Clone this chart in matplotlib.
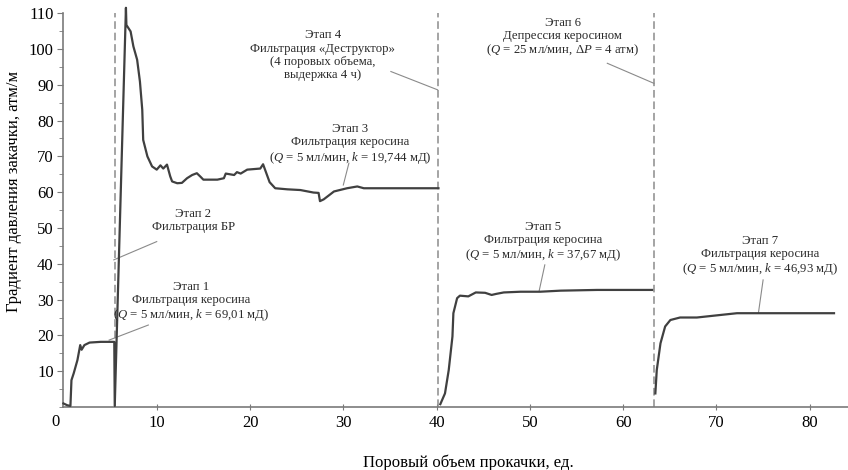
import matplotlib
matplotlib.use("Agg")
import matplotlib.pyplot as plt
from matplotlib.ticker import MultipleLocator

plt.rcParams['font.family'] = ['Liberation Serif', 'DejaVu Serif']
plt.rcParams['mathtext.fontset'] = 'custom'
plt.rcParams['mathtext.rm'] = 'Liberation Serif'
plt.rcParams['mathtext.it'] = 'Liberation Serif:italic'

# stages 1-3 (continuous record up to the "Деструктор" stage)
x_13 = [0.0, 0.4, 0.75, 0.86, 1.1, 1.5, 1.8, 1.95, 2.25, 2.8, 4.0, 5.45, 5.5,
        6.7, 6.75, 7.2, 7.5, 7.9, 8.2, 8.45, 8.55, 9.0, 9.5, 10.0, 10.4, 10.7,
        11.1, 11.45, 11.65, 12.2, 12.7, 13.25, 13.8, 14.3, 14.7, 15.0, 16.5,
        17.2, 17.4, 18.3, 18.6, 19.0, 19.7, 21.1, 21.4, 22.1, 22.7, 24.0, 25.4,
        26.8, 27.35, 27.5, 27.9, 29.0, 30.4, 31.5, 32.2, 34.3, 40.2]
y_13 = [1.0, 0.5, 0.3, 7.5, 9.4, 13.1, 17.3, 16.0, 17.3, 18.0, 18.2, 18.2, 0.3,
        111.5, 106.7, 104.9, 100.7, 97.0, 90.9, 83.0, 74.6, 70.0, 67.2, 66.3,
        67.5, 66.6, 67.7, 64.4, 63.0, 62.5, 62.6, 63.9, 64.8, 65.3, 64.3, 63.5,
        63.5, 63.9, 65.2, 64.8, 65.6, 65.2, 66.3, 66.6, 67.8, 62.8, 61.1, 60.8,
        60.6, 59.9, 59.8, 57.5, 58.0, 60.2, 61.1, 61.6, 61.1, 61.1, 61.1]

# stage 5
x_5 = [40.4, 40.9, 41.3, 41.7, 41.8, 42.2, 42.5, 43.4, 44.2, 45.2, 45.9, 46.4,
       47.2, 49.0, 51.1, 53.3, 57.2, 63.1]
y_5 = [0.8, 3.8, 10.3, 19.7, 26.2, 30.4, 31.1, 30.9, 32.0, 31.9, 31.3, 31.6,
       32.0, 32.2, 32.2, 32.5, 32.7, 32.7]

# stage 7
x_7 = [63.45, 63.6, 64.0, 64.5, 65.06, 66.1, 67.9, 70.4, 72.2, 75.8, 82.6]
y_7 = [3.8, 10.3, 17.8, 22.5, 24.3, 25.0, 25.0, 25.7, 26.2, 26.2, 26.2]

stage_bounds = [5.5, 40.1, 63.3]

labels = [
    "Этап 1\nФильтрация керосина\n($Q$ = 5 мл/мин, $k$ = 69,01 мД)",
    "Этап 2\nФильтрация БР",
    "Этап 3\nФильтрация керосина\n($Q$ = 5 мл/мин, $k$ = 19,744 мД)",
    "Этап 4\nФильтрация «Деструктор»\n(4 поровых объема,\nвыдержка 4 ч)",
    "Этап 5\nФильтрация керосина\n($Q$ = 5 мл/мин, $k$ = 37,67 мД)",
    "Этап 6\nДепрессия керосином\n($Q$ = 25 мл/мин, Δ$P$ = 4 атм)",
    "Этап 7\nФильтрация керосина\n($Q$ = 5 мл/мин, $k$ = 46,93 мД)",
]
label_xy = [(13.7, 29.3), (13.9, 52.2), (30.7, 73.3), (27.8, 98.3),
            (51.4, 46.1), (53.5, 103.2), (74.7, 42.2)]
leader_from = [(9.1, 22.9), (10.0, 46.2), (30.6, 68.1), (35.1, 93.7),
               (51.6, 39.7), (58.3, 96.0), (75.0, 35.5)]
leader_to = [(4.9, 18.7), (5.4, 41.1), (30.0, 62.0), (40.1, 88.6),
             (51.0, 32.5), (63.3, 90.4), (74.5, 26.3)]

fig = plt.figure(figsize=(8.48, 4.70), dpi=100)
ax = fig.add_axes([0.0748, 0.134, 0.9252, 0.838])

curve = '#404040'
for xs, ys in [(x_13, y_13), (x_5, y_5), (x_7, y_7)]:
    ax.plot(xs, ys, color=curve, lw=1.6, clip_on=False, zorder=3)

for xb in stage_bounds:
    ax.plot([xb, xb], [0, 110], color='#8c8c8c', lw=1.1,
            linestyle=(0, (5, 2.5)), zorder=2)

for txt, (tx, ty), (x0, y0), (x1, y1) in zip(labels, label_xy, leader_from, leader_to):
    ax.text(tx, ty, txt, ha='center', va='center', fontsize=9.2,
            color='#2a2a2a', linespacing=1.12)
    ax.plot([x0, x1], [y0, y1], color='#8a8a8a', lw=0.8, zorder=2)

ax.set_xlim(0, 84.1)
ax.set_ylim(0, 110)
ax.spines['top'].set_visible(False)
ax.spines['right'].set_visible(False)
for s in ['left', 'bottom']:
    ax.spines[s].set_color('#7a7a7a')
    ax.spines[s].set_linewidth(1.2)

ax.set_xticks(range(10, 81, 10))
ax.set_yticks(range(10, 111, 10))
ax.yaxis.set_minor_locator(MultipleLocator(5))
ax.tick_params(axis='x', direction='inout', length=5, color='#7a7a7a',
               labelsize=12, pad=3)
ax.tick_params(axis='y', which='major', direction='out', length=4,
               color='#7a7a7a', labelsize=12, pad=3)
ax.tick_params(axis='y', which='minor', direction='out', length=3,
               color='#7a7a7a')
ax.text(-0.8, -4.2, '0', ha='center', va='center', fontsize=12,
        clip_on=False)

ax.set_ylabel('Градиент давления закачки, атм/м', fontsize=12)
ax.yaxis.set_label_coords(-0.053, 0.548)
fig.text(0.552, 0.015, 'Поровый объем прокачки, ед.', ha='center',
         va='center', fontsize=12)

fig.savefig('out.png', dpi=100)
